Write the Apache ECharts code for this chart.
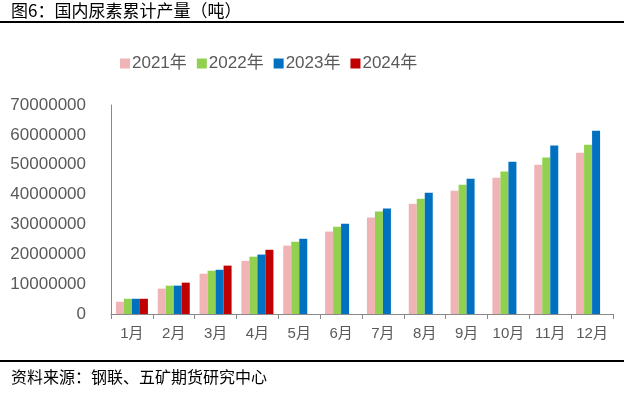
<!DOCTYPE html>
<html><head><meta charset="utf-8">
<script src="https://cdn.jsdelivr.net/npm/echarts@6/dist/echarts.min.js"></script>
<style>html,body{margin:0;padding:0;background:#fff}#c{width:624px;height:394px}</style>
</head><body><div id="c"></div>
<script>
const categories = ['1月','2月','3月','4月','5月','6月','7月','8月','9月','10月','11月','12月'];
const s2021 = [4100000, 8500000, 13500000, 17800000, 22900000, 27600000, 32300000, 36900000, 41300000, 45600000, 50000000, 54000000];
const s2022 = [5100000, 9500000, 14500000, 19200000, 24200000, 29200000, 34300000, 38600000, 43300000, 47700000, 52400000, 56700000];
const s2023 = [5100000, 9500000, 14800000, 19900000, 25200000, 30200000, 35300000, 40600000, 45300000, 51000000, 56400000, 61400000];
const s2024 = [5100000, 10500000, 16200000, 21500000, null, null, null, null, null, null, null, null];
const seriesNames = ['2021年','2022年','2023年','2024年'];
const colors = ['#F0B3B6','#92D050','#0070C0','#C00000'];
const yTicks = [0, 10000000, 20000000, 30000000, 40000000, 50000000, 60000000, 70000000];

const chart = echarts.init(document.getElementById('c'));
const data = [s2021, s2022, s2023, s2024];
chart.setOption({
  animation: false,
  graphic: [
    {type:'text', left: 11, top: 2, style:{text:'图6：国内尿素累计产量（吨）', fontSize:17, fontFamily:'Noto Sans CJK SC', fill:'#000'}},
    {type:'rect', shape:{x:0, y:21, width:624, height:2}, style:{fill:'#000'}},
    {type:'rect', shape:{x:0, y:360, width:624, height:2}, style:{fill:'#000'}},
    {type:'text', left: 11, top: 369, style:{text:'资料来源：钢联、五矿期货研究中心', fontSize:16, fontFamily:'Noto Sans CJK SC', fill:'#000'}}
  ],
  legend: {
    top: 50, left: 115,
    itemWidth: 10, itemHeight: 10, itemGap: 10,
    icon: 'rect',
    textStyle: {fontSize: 17, color:'#595959', fontFamily:'Liberation Sans, Noto Sans CJK SC', padding:[0,0,0,-3]},
    data: seriesNames
  },
  grid: {left: 111, right: 11, top: 105, bottom: 80},
  xAxis: {
    type: 'category', data: categories,
    axisLine: {lineStyle:{color:'#898989', width:1}},
    axisTick: {show:true, length:5, lineStyle:{color:'#898989'}},
    axisLabel: {fontSize: 15, color:'#595959', margin: 12, fontFamily:'Liberation Sans, Noto Sans CJK SC'}
  },
  yAxis: {
    type: 'value', min: yTicks[0], max: yTicks[yTicks.length-1], interval: 10000000,
    axisLine: {show:true, lineStyle:{color:'#898989', width:1}},
    axisTick: {show:false},
    splitLine: {show:false},
    axisLabel: {fontSize: 17, color:'#595959', margin: 25, fontFamily:'Liberation Sans', formatter: v => String(v)}
  },
  series: data.map((d,i)=>({
    name: seriesNames[i], type:'bar', data:d,
    barWidth: 8, barGap: '0%',
    itemStyle: {color: colors[i]}
  }))
});
</script></body></html>
